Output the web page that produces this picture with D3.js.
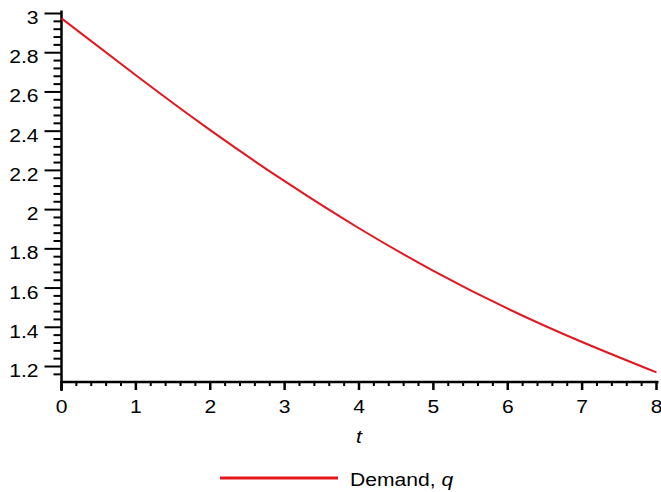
<!DOCTYPE html>
<html>
<head>
<meta charset="utf-8">
<script src="https://cdn.jsdelivr.net/npm/d3@7"></script>
<style>
  html, body { margin: 0; padding: 0; background: #fff; }
  svg { display: block; }
  text { font-family: "Liberation Sans", Arial, Helvetica, sans-serif; fill: #000; }
</style>
</head>
<body>
<svg id="chart" width="661" height="492"></svg>
<script>
// Demand q over time t
const tValues = [0, 1, 2, 3, 4, 5, 6, 7, 8];
const demand  = [2.975, 2.685, 2.405, 2.145, 1.905, 1.688, 1.495, 1.325, 1.17];

const xTicks = [0, 1, 2, 3, 4, 5, 6, 7, 8];
const yTicks = [1.2, 1.4, 1.6, 1.8, 2, 2.2, 2.4, 2.6, 2.8, 3];
const yTickLabels = ["1.2", "1.4", "1.6", "1.8", "2", "2.2", "2.4", "2.6", "2.8", "3"];
const seriesName = "Demand, ";
const seriesSymbol = "q";
const xTitle = "t";

const svg = d3.select("#chart");
const red = "#e3161e";
const FONT = 18.5;
const WIDEN = 1.14;   // slightly wide lettering

const x = d3.scaleLinear().domain([0, 8]).range([61.5, 656.5]);
const y = d3.scaleLinear().domain([1.121, 3]).range([382, 13.5]);

// minor tick positions
const xMinor = d3.range(0, 8.0001, 0.2).filter(v => Math.abs(v - Math.round(v)) > 1e-6);
const yMinor = d3.range(1.16, 3.0001, 0.04).filter(v => !yTicks.some(t => Math.abs(t - v) < 1e-6));

const place = (px, py) => `translate(${px},${py}) scale(${WIDEN},1)`;

// x axis
const gx = svg.append("g").attr("transform", `translate(0,${y.range()[0]})`);
gx.append("line").attr("x1", x(0) - 1).attr("x2", x(8) + 2)
  .attr("y1", 0).attr("y2", 0).attr("stroke", "#000").attr("stroke-width", 2.5);
gx.selectAll("line.major").data(xTicks).join("line").attr("class", "major")
  .attr("x1", d => x(d)).attr("x2", d => x(d)).attr("y1", 0).attr("y2", 8)
  .attr("stroke", "#000").attr("stroke-width", 2.5);
gx.selectAll("line.minor").data(xMinor).join("line").attr("class", "minor")
  .attr("x1", d => x(d)).attr("x2", d => x(d)).attr("y1", 0).attr("y2", 4)
  .attr("stroke", "#000").attr("stroke-width", 2);
gx.selectAll("text").data(xTicks).join("text")
  .attr("transform", d => place(x(d), 31))
  .attr("text-anchor", "middle").attr("font-size", FONT)
  .text(d => d);

// y axis
const gy = svg.append("g").attr("transform", `translate(${x(0)},0)`);
gy.append("line").attr("x1", 0).attr("x2", 0)
  .attr("y1", 10.5).attr("y2", y.range()[0] + 9)
  .attr("stroke", "#000").attr("stroke-width", 2.5);
gy.selectAll("line.major").data(yTicks).join("line").attr("class", "major")
  .attr("x1", -17).attr("x2", 0).attr("y1", d => y(d)).attr("y2", d => y(d))
  .attr("stroke", "#000").attr("stroke-width", 2);
gy.selectAll("line.minor").data(yMinor).join("line").attr("class", "minor")
  .attr("x1", -8).attr("x2", 0).attr("y1", d => y(d)).attr("y2", d => y(d))
  .attr("stroke", "#000").attr("stroke-width", 2);
gy.selectAll("text").data(yTicks).join("text")
  .attr("transform", d => place(-23, y(d) + 10.5))
  .attr("text-anchor", "end").attr("font-size", FONT)
  .text((d, i) => yTickLabels[i]);

// x title
svg.append("text").attr("transform", place(x(4), 443))
  .attr("text-anchor", "middle").attr("font-size", FONT).attr("font-style", "italic")
  .text(xTitle);

// demand curve
const pts = tValues.map((t, i) => [t, demand[i]]);
svg.append("path").datum(pts)
  .attr("fill", "none").attr("stroke", red).attr("stroke-width", 2)
  .attr("d", d3.line().x(d => x(d[0])).y(d => y(d[1])).curve(d3.curveNatural));

// legend
const lg = svg.append("g");
lg.append("line").attr("x1", 220).attr("x2", 338).attr("y1", 478).attr("y2", 478)
  .attr("stroke", red).attr("stroke-width", 3);
const lt = lg.append("text").attr("transform", place(350, 485.5)).attr("font-size", FONT);
lt.append("tspan").text(seriesName);
lt.append("tspan").attr("font-style", "italic").text(seriesSymbol);
</script>
</body>
</html>
